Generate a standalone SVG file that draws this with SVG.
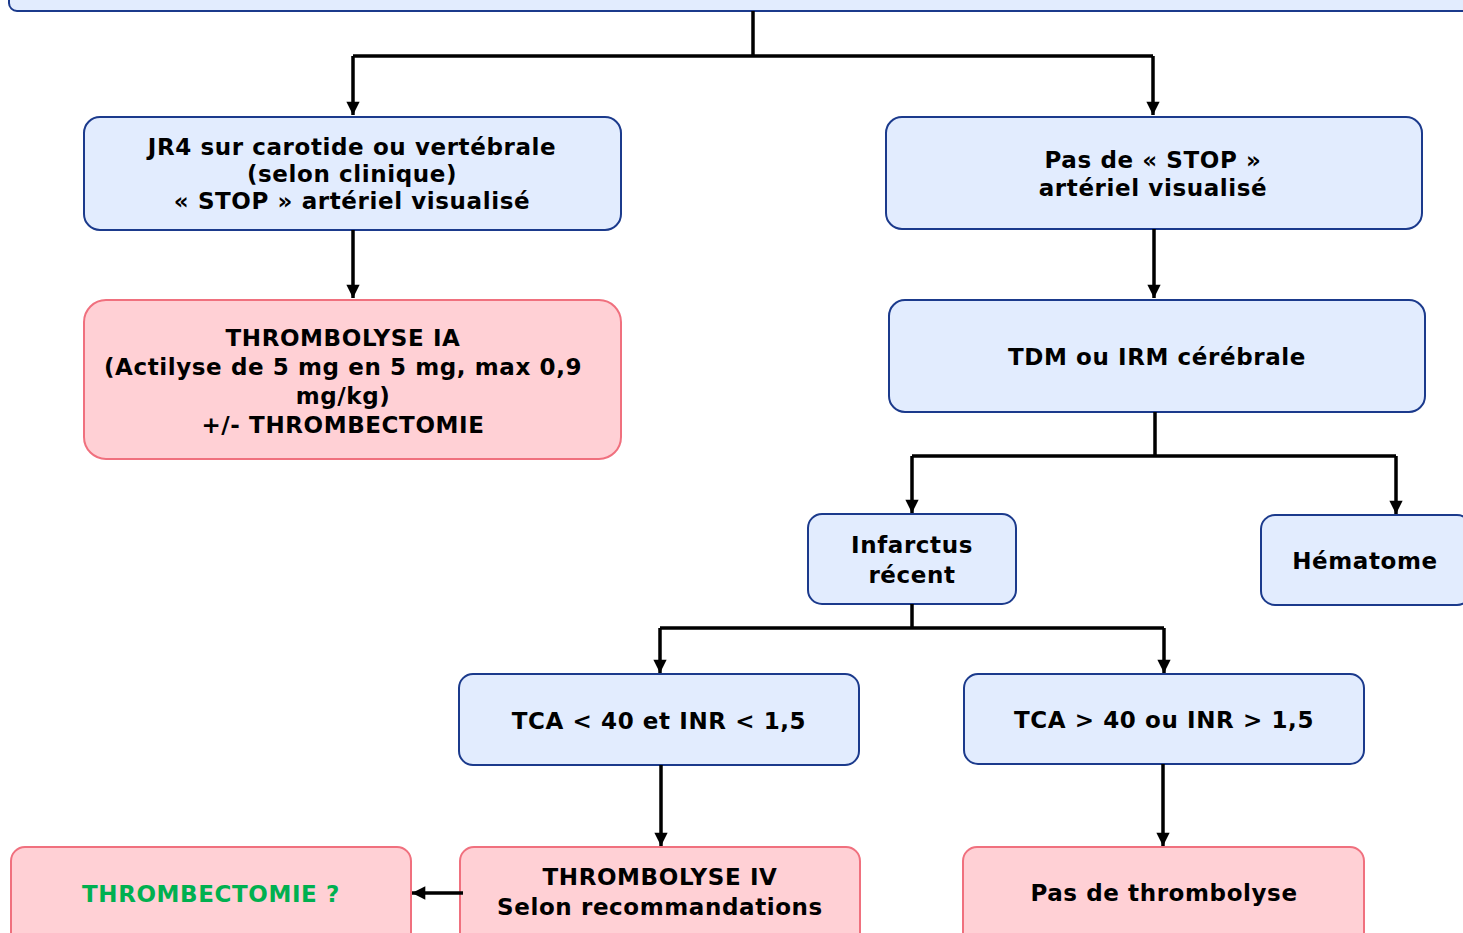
<svg xmlns="http://www.w3.org/2000/svg" width="1463" height="933" viewBox="0 0 1463 933">
<style>
.b{fill:#e2ecfe;stroke:#1b3a8c;stroke-width:2}
.r{fill:#ffd0d5;stroke:#f0707e;stroke-width:2}
text{font-family:"DejaVu Sans","Verdana",sans-serif;font-weight:bold;font-size:23px;letter-spacing:0.6px;fill:#000;text-anchor:middle}
.g{fill:#00b050}
.c{fill:none;stroke:#000;stroke-width:3.5}
</style>
<defs>
<marker id="a" viewBox="0 0 10 10" refX="10" refY="5" markerWidth="4.5" markerHeight="3.8" markerUnits="strokeWidth" orient="auto">
<path d="M0,0 L10,5 L0,10 z" fill="#000"/>
</marker>
</defs>
<rect width="1463" height="933" fill="#fff"/>
<g id="top"><rect class="b" x="9" y="-40" width="1480" height="51" rx="8"/></g>
<g id="n1"><rect class="b" x="84" y="117" width="537" height="113" rx="16"/>
<text x="352" y="155">JR4 sur carotide ou vertébrale</text>
<text x="352" y="182">(selon clinique)</text>
<text x="352" y="209">« STOP » artériel visualisé</text></g>
<g id="n2"><rect class="r" x="84" y="300" width="537" height="159" rx="22"/>
<text x="343" y="346">THROMBOLYSE IA</text>
<text x="343" y="375">(Actilyse de 5 mg en 5 mg, max 0,9</text>
<text x="343" y="404">mg/kg)</text>
<text x="343" y="433">+/- THROMBECTOMIE</text></g>
<g id="n3"><rect class="b" x="886" y="117" width="536" height="112" rx="16"/>
<text x="1153" y="168">Pas de « STOP »</text>
<text x="1153" y="196">artériel visualisé</text></g>
<g id="n4"><rect class="b" x="889" y="300" width="536" height="112" rx="16"/>
<text x="1157" y="365">TDM ou IRM cérébrale</text></g>
<g id="n5"><rect class="b" x="808" y="514" width="208" height="90" rx="14"/>
<text x="912" y="553">Infarctus</text>
<text x="912" y="583">récent</text></g>
<g id="n6"><rect class="b" x="1261" y="515" width="210" height="90" rx="14"/>
<text x="1365" y="569">Hématome</text></g>
<g id="n7"><rect class="b" x="459" y="674" width="400" height="91" rx="14"/>
<text x="659" y="729">TCA &lt; 40 et INR &lt; 1,5</text></g>
<g id="n8"><rect class="b" x="964" y="674" width="400" height="90" rx="14"/>
<text x="1164" y="728">TCA &gt; 40 ou INR &gt; 1,5</text></g>
<g id="n9"><rect class="r" x="460" y="847" width="400" height="100" rx="14"/>
<text x="660" y="885">THROMBOLYSE IV</text>
<text x="660" y="915">Selon recommandations</text></g>
<g id="n10"><rect class="r" x="963" y="847" width="401" height="100" rx="14"/>
<text x="1164" y="901">Pas de thrombolyse</text></g>
<g id="n11"><rect class="r" x="11" y="847" width="400" height="100" rx="14"/>
<text class="g" x="211" y="902">THROMBECTOMIE ?</text></g>
<g id="connectors">
<path class="c" d="M753,11 V56"/>
<path class="c" d="M353,56 H1153" stroke-width="4.5"/>
<path class="c" d="M353,56 V115" marker-end="url(#a)"/>
<path class="c" d="M1153,56 V115" marker-end="url(#a)"/>
<path class="c" d="M353,230 V298" marker-end="url(#a)"/>
<path class="c" d="M1154,229 V298" marker-end="url(#a)"/>
<path class="c" d="M1155,412 V456 M912,456 H1396"/>
<path class="c" d="M912,456 V513" marker-end="url(#a)"/>
<path class="c" d="M1396,456 V514" marker-end="url(#a)"/>
<path class="c" d="M912,604 V628 M660,628 H1164"/>
<path class="c" d="M660,628 V673" marker-end="url(#a)"/>
<path class="c" d="M1164,628 V673" marker-end="url(#a)"/>
<path class="c" d="M661,765 V846" marker-end="url(#a)"/>
<path class="c" d="M1163,764 V846" marker-end="url(#a)"/>
<path class="c" d="M463,893 H412" marker-end="url(#a)"/>
</g>
</svg>
